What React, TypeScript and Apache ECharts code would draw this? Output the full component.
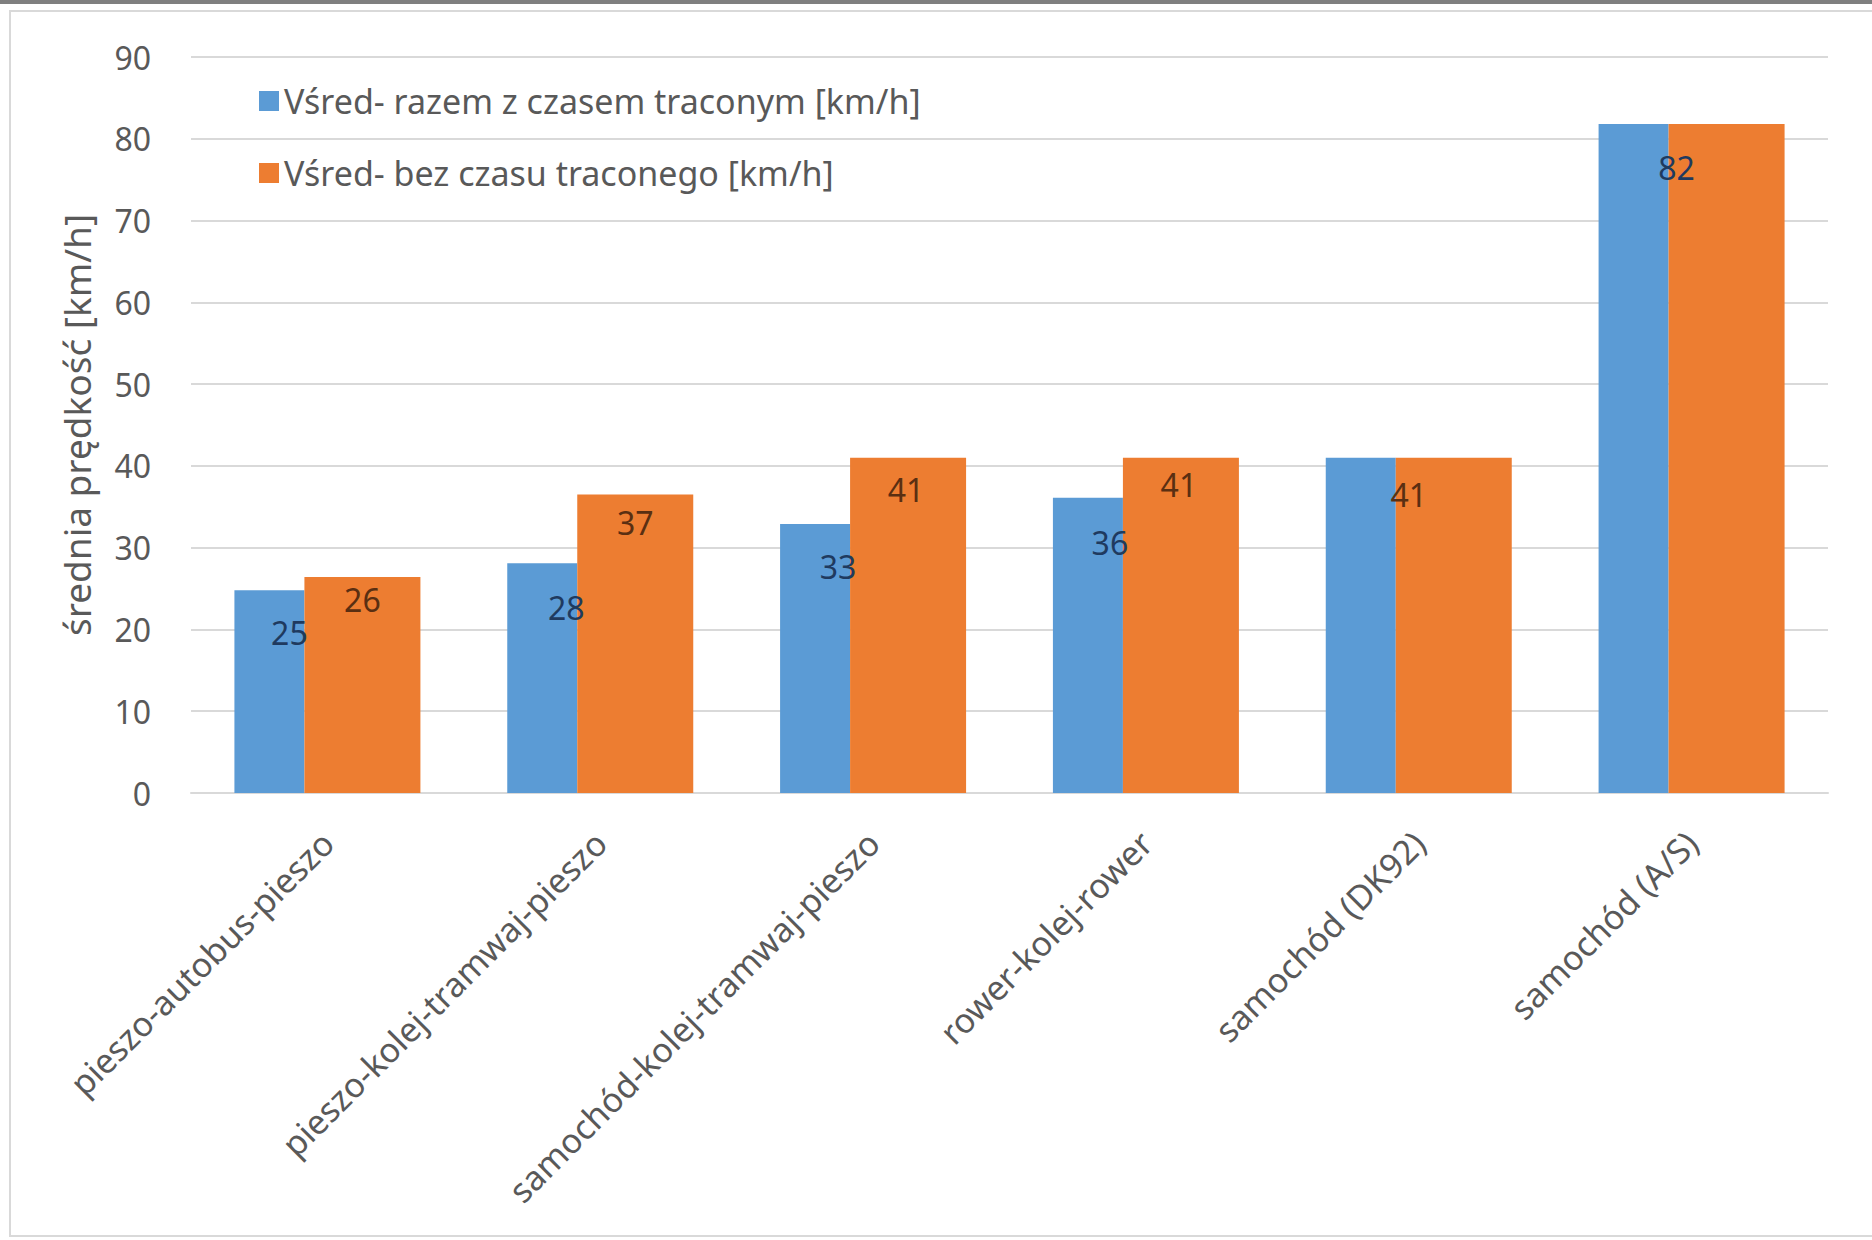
import React, { useEffect, useRef } from "react";
import * as echarts from "echarts";

const categories = [
  "pieszo-autobus-pieszo",
  "pieszo-kolej-tramwaj-pieszo",
  "samochód-kolej-tramwaj-pieszo",
  "rower-kolej-rower",
  "samochód (DK92)",
  "samochód (A/S)",
];
const seriesNames = [
  "Vśred- razem z czasem traconym [km/h]",
  "Vśred- bez czasu traconego [km/h]",
];
const withLostTime = [24.8, 28.1, 32.9, 36.1, 41.0, 81.8];
const withoutLostTime = [26.4, 36.5, 41.0, 41.0, 41.0, 81.8];
const yTicks = { min: 0, max: 90, interval: 10 };

// label visibility per category (as in the source chart)
const showBlueLabel = [true, true, true, true, false, true];
const showOrangeLabel = [true, true, true, true, true, false];
// label style offsets (px) relative to bar centre / top
const blueLabelDx = [20, 24, 23, 22, 0, 43];
const blueLabelDy = [42, 44, 43, 45, 0, 43];
const orangeLabelDx = [0, 0, -2, -2, -45, 0];
const orangeLabelDy = [22, 28, 32, 27, 37, 0];

const FONT = "'Noto Sans', 'Liberation Sans', sans-serif";
const GRAY = "#595959";

export default function App() {
  const ref = useRef<HTMLDivElement>(null);

  useEffect(() => {
    document.body.style.margin = "0";
    if (!ref.current) return;
    const chart = echarts.init(ref.current, undefined, { renderer: "svg" });

    const mk = (
      vals: number[],
      show: boolean[],
      dx: number[],
      dy: number[],
      color: string
    ) =>
      vals.map((v, i) => ({
        value: v,
        label: {
          show: show[i],
          position: ["50%", dy[i]],
          align: "center",
          verticalAlign: "middle",
          offset: [dx[i], 0],
          color,
          fontSize: 32,
          fontFamily: FONT,
          formatter: (p: any) => String(Math.round(p.value)),
        },
      }));

    chart.setOption({
      animation: false,
      backgroundColor: "#ffffff",
      textStyle: { fontFamily: FONT },
      graphic: [
        {
          type: "rect",
          shape: { x: 0, y: 0, width: 1872, height: 4 },
          style: { fill: "#7f7f7f" },
          silent: true,
        },
        {
          type: "rect",
          shape: { x: 10, y: 11, width: 1900, height: 1225 },
          style: { fill: "none", stroke: "#d9d9d9", lineWidth: 2 },
          silent: true,
        },
      ],
      legend: {
        orient: "vertical",
        left: 254,
        top: 78,
        itemWidth: 20,
        itemHeight: 20,
        itemGap: 36,
        icon: "rect",
        selectedMode: false,
        textStyle: {
          color: GRAY,
          fontSize: 34,
          lineHeight: 36,
          fontFamily: FONT,
        },
        data: seriesNames,
      },
      grid: { left: 191, right: 1872 - 1828, top: 57, bottom: 1240 - 793 },
      xAxis: {
        type: "category",
        data: categories,
        axisLine: { show: true, lineStyle: { color: "#d9d9d9", width: 2 } },
        axisTick: { show: false },
        axisLabel: {
          rotate: 45,
          interval: 0,
          color: GRAY,
          fontSize: 34,
          fontFamily: FONT,
          margin: 44,
        },
      },
      yAxis: {
        type: "value",
        min: yTicks.min,
        max: yTicks.max,
        interval: yTicks.interval,
        name: "średnia prędkość [km/h]",
        nameLocation: "middle",
        nameRotate: 90,
        nameGap: 96,
        nameTextStyle: { color: GRAY, fontSize: 37, fontFamily: FONT },
        axisLine: { show: false },
        axisTick: { show: false },
        axisLabel: { color: GRAY, fontSize: 32, fontFamily: FONT, margin: 40 },
        splitLine: { lineStyle: { color: "#d9d9d9", width: 2 } },
      },
      series: [
        {
          name: seriesNames[0],
          type: "bar",
          barWidth: 70,
          barGap: "0%",
          itemStyle: { color: "#5b9bd5" },
          data: mk(withLostTime, showBlueLabel, blueLabelDx, blueLabelDy, "#1f3a5f"),
        },
        {
          name: seriesNames[1],
          type: "bar",
          barWidth: 116,
          barGap: "0%",
          itemStyle: { color: "#ed7d31" },
          data: mk(withoutLostTime, showOrangeLabel, orangeLabelDx, orangeLabelDy, "#5a2f12"),
        },
      ],
    });

    return () => chart.dispose();
  }, []);

  return <div ref={ref} style={{ width: 1872, height: 1240 }} />;
}
